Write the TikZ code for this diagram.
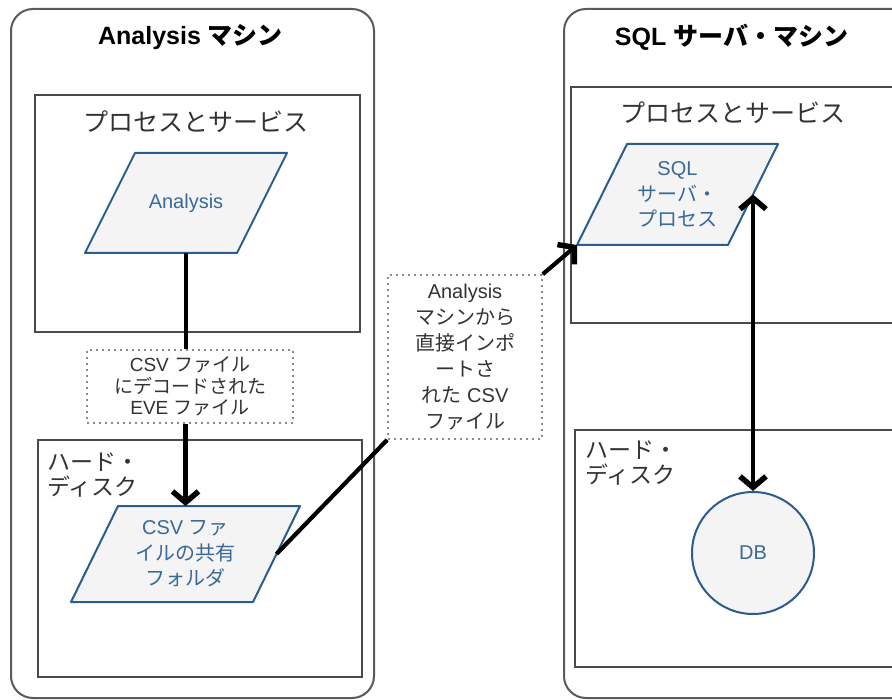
\documentclass[tikz,border=0pt]{standalone}
\usepackage{fontspec}
\setmainfont{Liberation Sans}
\newfontfamily\jpfont{Noto Sans CJK JP}
\usetikzlibrary{arrows.meta}
\newcommand\J[1]{{\jpfont #1}}
\newcommand\fs[2]{\fontsize{#1}{#2}\selectfont}
\definecolor{machgray}{HTML}{5A5A5A}
\definecolor{areagray}{HTML}{4A4A4A}
\definecolor{dotgray}{HTML}{8A8A8A}
\definecolor{labtext}{HTML}{333333}
\definecolor{blueline}{HTML}{2B5C8F}
\definecolor{bluetext}{HTML}{3A6898}
\definecolor{parafill}{HTML}{F4F4F4}
% \paranode{name}{cx}{cy}{edge length}{height}{slant}{text}
% draws a right-leaning parallelogram with its text node and named points:
% name-top, name-bottom, name-right (middle of right side), name-bl (bottom left corner)
\newcommand\paranode[7]{%
  \path[parabox] ({#2-#4/2-#6/2},{#3+#5/2}) -- ({#2+#4/2-#6/2},{#3+#5/2})
     -- ({#2+#4/2+#6/2},{#3-#5/2}) -- ({#2-#4/2+#6/2},{#3-#5/2}) -- cycle;
  \node[paratext] (#1) at (#2,#3) {#7};
  \coordinate (#1-top) at (#2,{#3-#5/2});
  \coordinate (#1-bottom) at (#2,{#3+#5/2});
  \coordinate (#1-right) at ({#2+#4/2},#3);
  \coordinate (#1-bl) at ({#2-#4/2-#6/2},{#3+#5/2});
}
\begin{document}
\begin{tikzpicture}[x=1pt,y=-1pt,
  machine/.style={draw=machgray,line width=2pt,rounded corners=22pt},
  area/.style={draw=areagray,line width=1.5pt},
  title/.style={text=black,font=\fs{25}{28}\bfseries},
  arealabel/.style={text=labtext,font=\fs{25}{28}},
  disklabel/.style={text=labtext,font=\fs{23}{25},align=left,anchor=north west,inner sep=0pt},
  parabox/.style={draw=blueline,fill=parafill,line width=2pt,line join=round},
  paratext/.style={inner sep=0pt,text=bluetext,align=center,font=\fs{20}{25.5}},
  store/.style={circle,draw=blueline,fill=parafill,line width=2pt,
    text=bluetext,font=\fs{20}{24},minimum size=122pt,inner sep=0pt},
  note/.style={draw=dotgray,dash pattern=on 1.6pt off 4.4pt,line width=1.6pt,
    fill=white,text=labtext,align=center,inner sep=0pt},
  flow/.style={line width=4.2pt,black},
  chev/.style={-{Straight Barb[length=11pt,width=26pt,line width=5.5pt]}},
  chevboth/.style={{Straight Barb[length=11pt,width=26pt,line width=5.5pt]}-{Straight Barb[length=11pt,width=26pt,line width=5.5pt]}}]
\useasboundingbox (0,0) rectangle (892,700);
\clip (0,0) rectangle (892,700);
\fill[white] (0,0) rectangle (892,700);

% machines and their areas
\draw[machine] (11,9) rectangle (374,698);
\draw[area] (35,95) rectangle (360,332);
\draw[area] (38,440) rectangle (362,677);
\draw[machine] (564,9) rectangle (950,698);
\draw[area] (571,87) rectangle (940,323);
\draw[area] (575,430) rectangle (940,667);

% headings
\node[title] (t1) at (190.5,37) {Analysis \J{マシン}};
\node[title] (t2) at (731.5,37) {SQL \J{サーバ・マシン}};
\node[arealabel] (p1) at (196,122) {\J{プロセスとサービス}};
\node[arealabel] (p2) at (733,113) {\J{プロセスとサービス}};
\node[disklabel] (h1) at (47,453) {\J{ハード・}\\\J{ディスク}};
\node[disklabel] (h2) at (585,441) {\J{ハード・}\\\J{ディスク}};

% processes, shares and storage
\paranode{ana}{186}{203}{152}{100}{50}{Analysis}
\paranode{csv}{185.5}{554}{182}{96}{47}{CSV \J{ファ}\\\J{イルの共有}\\\J{フォルダ}}
\paranode{sql}{677.5}{194.5}{151}{101}{50}{SQL\\\J{サーバ・}\\\J{プロセス}}
\node[store] (db) at (753,553) {DB};

% data captions
\node[note,minimum width=206pt,minimum height=73pt,font=\fs{19}{21.5}] (cap1) at (190,386.5)
  {CSV \J{ファイル}\\\J{にデコードされた}\\EVE \J{ファイル}};
\node[note,minimum width=154pt,minimum height=164pt,font=\fs{20}{26}] (cap2) at (465,357)
  {Analysis\\\J{マシンから}\\\J{直接インポ}\\\J{ートさ}\\\J{れた} CSV\\\J{ファイル}};

% data flow
\draw[flow] (ana-bottom) -- (ana-bottom |- cap1.north);
\draw[flow,chev] (csv-top |- cap1.south) -- (csv-top);
\draw[flow] (csv-right) -- (cap2.south west);
\draw[flow,chev] (cap2.north east) -- (sql-bl);
\draw[flow,chevboth] (sql-right) -- (db.north);
\end{tikzpicture}
\end{document}
